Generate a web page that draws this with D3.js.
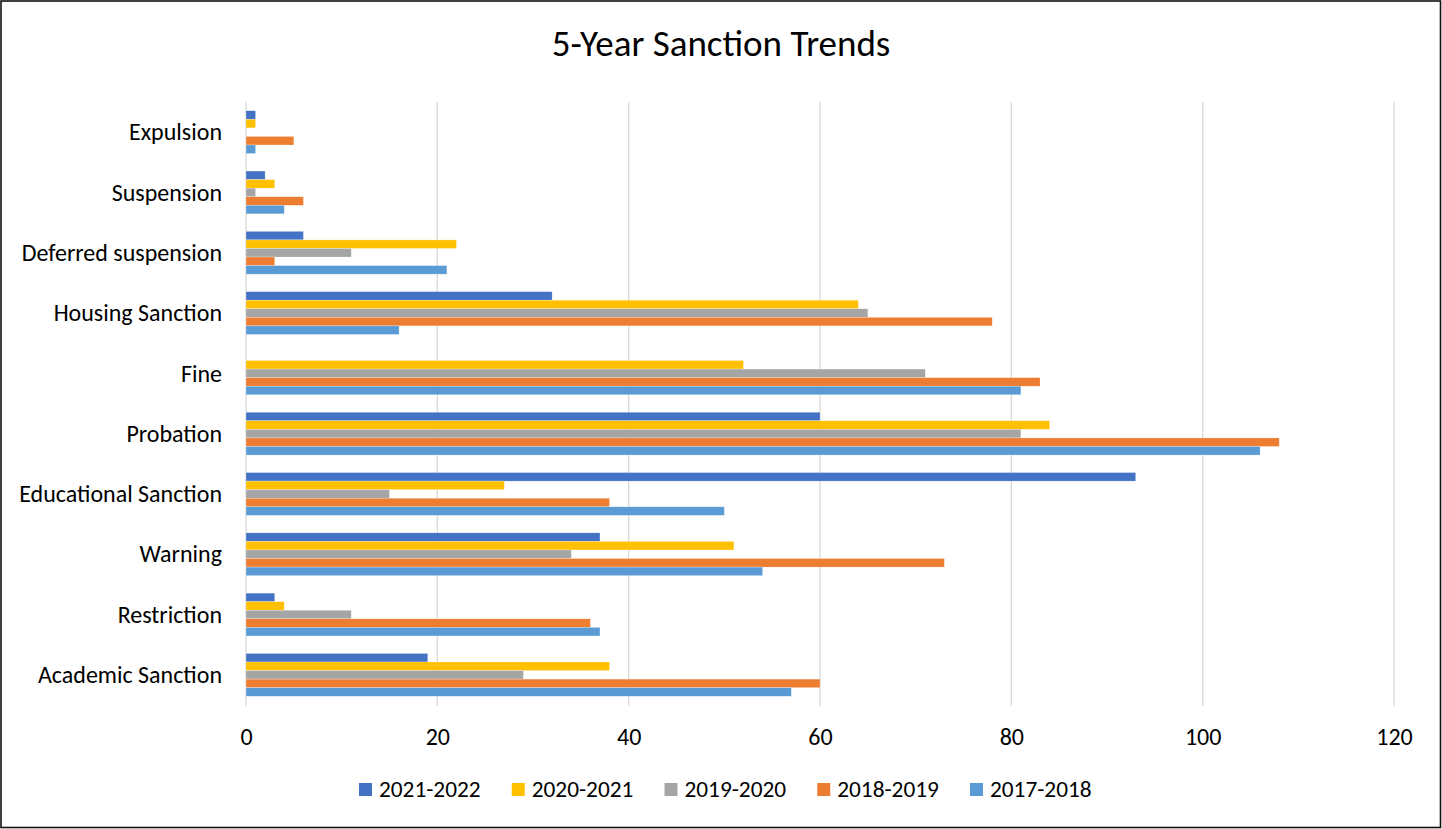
<!DOCTYPE html>
<html>
<head>
<meta charset="utf-8">
<script src="https://cdn.jsdelivr.net/npm/d3@7"></script>
<style>
  html, body { margin: 0; padding: 0; background: #fff; }
  svg { display: block; }
  text { font-family: Calibri, Carlito, "Open Sans", "Noto Sans", sans-serif; fill: #000; }
</style>
</head>
<body>
<svg id="chart" width="1442" height="829"></svg>
<script>
// Sanction categories, listed top to bottom
const categories = [
  "Expulsion", "Suspension", "Deferred suspension", "Housing Sanction", "Fine",
  "Probation", "Educational Sanction", "Warning", "Restriction", "Academic Sanction"
];

// Academic years, in the order they are stacked inside each group
const years = ["2021-2022", "2020-2021", "2019-2020", "2018-2019", "2017-2018"];

// Counts per category for each academic year
const values2021_2022 = [1, 2, 6, 32, 0, 60, 93, 37, 3, 19];
const values2020_2021 = [1, 3, 22, 64, 52, 84, 27, 51, 4, 38];
const values2019_2020 = [0, 1, 11, 65, 71, 81, 15, 34, 11, 29];
const values2018_2019 = [5, 6, 3, 78, 83, 108, 38, 73, 36, 60];
const values2017_2018 = [1, 4, 21, 16, 81, 106, 50, 54, 37, 57];

const tickValues = [0, 20, 40, 60, 80, 100, 120];

const seriesValues = [values2021_2022, values2020_2021, values2019_2020, values2018_2019, values2017_2018];
const colors = ["#4472C4", "#FFC000", "#A5A5A5", "#ED7D31", "#5B9BD5"];

const FONT = 'Calibri, Carlito, "Open Sans", "Noto Sans", sans-serif';
const svg = d3.select("#chart");
const W = 1442, H = 829;

// outer frame
svg.append("rect")
  .attr("x", 1).attr("y", 1)
  .attr("width", W - 2.5).attr("height", H - 2.5)
  .attr("fill", "#fff").attr("stroke", "#111").attr("stroke-width", 1.6);

// title
svg.append("text")
  .attr("x", 721).attr("y", 56)
  .attr("text-anchor", "middle")
  .style("font-size", "37px")
  .text("5-Year Sanction Trends");

const x = d3.scaleLinear().domain([0, 120]).range([246, 1394]);
const y = d3.scaleBand().domain(categories).range([102, 705])
  .paddingInner(0.29).paddingOuter(0.145);
const yInner = d3.scaleBand().domain(years).range([0, y.bandwidth()]);

// vertical gridlines
svg.append("g").selectAll("line")
  .data(tickValues)
  .join("line")
  .attr("x1", d => x(d)).attr("x2", d => x(d))
  .attr("y1", 102).attr("y2", 706)
  .attr("stroke", "#D9D9D9").attr("stroke-width", 1.3);

// x-axis tick labels
const xAxis = d3.axisBottom(x).tickValues(tickValues).tickSize(0).tickPadding(0);
const gx = svg.append("g").attr("transform", "translate(0,745)").call(xAxis);
gx.select(".domain").remove();
gx.selectAll("text")
  .attr("y", 0).attr("dy", 0)
  .style("font-size", "24px")
  .style("font-family", FONT)
  .attr("fill", "#000");

// category labels
const yAxis = d3.axisLeft(y).tickSize(0).tickPadding(0);
const gy = svg.append("g").attr("transform", "translate(222,0)").call(yAxis);
gy.select(".domain").remove();
gy.selectAll("text")
  .attr("dy", "0.34em")
  .style("font-size", "24px")
  .style("font-family", FONT)
  .attr("fill", "#000");

// bars
const rows = [];
categories.forEach((c, ci) => {
  years.forEach((yr, si) => {
    rows.push({ category: c, year: yr, value: seriesValues[si][ci], color: colors[si] });
  });
});

svg.append("g").selectAll("rect")
  .data(rows.filter(d => d.value > 0))
  .join("rect")
  .attr("x", x(0))
  .attr("y", d => y(d.category) + yInner(d.year))
  .attr("width", d => x(d.value) - x(0))
  .attr("height", yInner.bandwidth())
  .attr("fill", d => d.color)
  .attr("stroke", "#fff").attr("stroke-opacity", 0.5).attr("stroke-width", 0.5);

// legend
const legendX = d3.scalePoint().domain(years).range([359, 970]);
const legend = svg.append("g").selectAll("g")
  .data(years)
  .join("g")
  .attr("transform", d => `translate(${legendX(d)},783)`);
legend.append("rect")
  .attr("width", 13).attr("height", 13)
  .attr("fill", (d, i) => colors[i]);
legend.append("text")
  .attr("x", 20).attr("y", 13.5)
  .style("font-size", "23.3px")
  .text(d => d);
</script>
</body>
</html>
